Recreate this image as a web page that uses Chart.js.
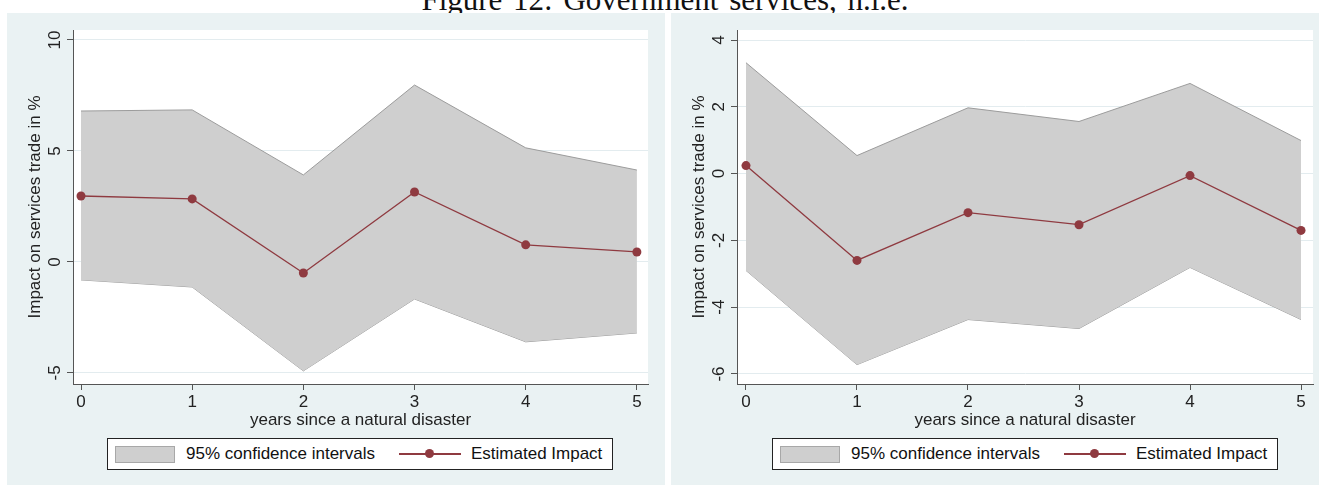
<!DOCTYPE html>
<html><head><meta charset="utf-8">
<script src="https://cdn.jsdelivr.net/npm/chart.js@4.4.0/dist/chart.umd.min.js"></script>
<style>
html,body{margin:0;padding:0;background:#fff;width:1319px;height:485px;overflow:hidden;position:relative;font-family:"Liberation Sans",Arial,sans-serif;}
.title{position:absolute;left:0;width:1330px;top:-16px;line-height:31px;text-align:center;font-family:"Liberation Serif","DejaVu Serif",serif;font-size:31px;color:#111;white-space:nowrap;word-spacing:3px}
.panel{position:absolute;top:13px;height:472px;background:#eaf2f3;overflow:hidden}
#p1{left:7px;width:658px}
#p2{left:671px;width:648px}
canvas{position:absolute;left:0;top:0}
.legend{position:absolute;top:425px;height:32px;width:506px;border:1px solid #222;background:#fff;box-sizing:border-box;font-size:17px;color:#111}
.legend .sw{position:absolute;left:7px;top:7px;width:60px;height:17px;background:#cfcfcf;border:1px solid #a8a8a8;box-sizing:border-box}
.legend .t1{position:absolute;left:78px;top:5px;line-height:20px;white-space:nowrap}
.legend .ln{position:absolute;left:291px;top:14px;width:62px;height:1.5px;background:#8f3a40}
.legend .dot{position:absolute;left:26px;top:-4px;width:9px;height:9px;border-radius:50%;background:#8f3a40}
.legend .t2{position:absolute;left:363px;top:5px;line-height:20px;white-space:nowrap}
</style>
</head><body>
<div class="title">Figure 12: Government services, n.i.e.</div>
<div class="panel" id="p1"><canvas id="c1" width="658" height="472"></canvas>
<div class="legend" style="left:100px"><div class="sw"></div><div class="t1">95% confidence intervals</div><div class="ln"><div class="dot"></div></div><div class="t2">Estimated Impact</div></div>
</div>
<div class="panel" id="p2"><canvas id="c2" width="648" height="472"></canvas>
<div class="legend" style="left:101px"><div class="sw"></div><div class="t1">95% confidence intervals</div><div class="ln"><div class="dot"></div></div><div class="t2">Estimated Impact</div></div>
</div>
<script>
const years = [0, 1, 2, 3, 4, 5];
const estLeft = [2.97, 2.84, -0.5, 3.15, 0.77, 0.45];
const upperLeft = [6.8, 6.85, 3.92, 7.97, 5.14, 4.14];
const lowerLeft = [-0.81, -1.13, -4.91, -1.67, -3.6, -3.2];
const estRight = [0.24, -2.6, -1.17, -1.53, -0.06, -1.7];
const upperRight = [3.32, 0.54, 1.97, 1.56, 2.7, 0.99];
const lowerRight = [-2.9, -5.72, -4.37, -4.64, -2.81, -4.37];
const yTicksLeft = [-5, 0, 5, 10];
const yTicksRight = [-6, -4, -2, 0, 2, 4];
const xTicks = [0, 1, 2, 3, 4, 5];
const yTitle = "Impact on services trade in %";
const xTitle = "years since a natural disaster";
const ciLabel = "95% confidence intervals";
const estLabel = "Estimated Impact";

const RED = '#8f3a40';
const TXT = '#222';

const panelPlugin = {
  id: 'panelPlugin',
  beforeDraw(chart) {
    const {ctx, chartArea: a} = chart;
    ctx.save();
    ctx.fillStyle = '#fff';
    ctx.fillRect(a.left, a.top, a.right - a.left, a.bottom - a.top);
    ctx.restore();
  },
  afterDraw(chart) {
    const y = chart.scales.y;
    const ctx = chart.ctx;
    ctx.save();
    ctx.font = '17px "Liberation Sans", Arial, sans-serif';
    ctx.fillStyle = TXT;
    ctx.textAlign = 'center';
    ctx.textBaseline = 'middle';
    y.ticks.forEach(t => {
      const py = y.getPixelForValue(t.value);
      ctx.save();
      ctx.translate(y.right - 18, py);
      ctx.rotate(-Math.PI / 2);
      ctx.fillText(String(t.value), 0, 0);
      ctx.restore();
    });
    ctx.restore();
  }
};

function pts(vals) { return years.map((x, i) => ({x: x, y: vals[i]})); }

function makeChart(id, est, up, lo, yTicks, yMin, yMax, xMin, xMax, padRight) {
  return new Chart(document.getElementById(id), {
    type: 'line',
    data: {
      datasets: [
        {label: estLabel, data: pts(est), borderColor: RED, borderWidth: 1.3, pointRadius: 4.5,
         pointBackgroundColor: RED, pointBorderWidth: 0, fill: false, tension: 0},
        {label: ciLabel + ' upper', data: pts(up), borderColor: '#9c9c9c', borderWidth: 1, pointRadius: 0,
         backgroundColor: '#cfcfcf', fill: '+1', tension: 0},
        {label: ciLabel + ' lower', data: pts(lo), borderColor: '#9c9c9c', borderWidth: 1, pointRadius: 0,
         fill: false, tension: 0}
      ]
    },
    options: {
      responsive: false, animation: false, devicePixelRatio: 1,
      layout: {padding: {left: 18, top: 17, right: padRight, bottom: 54}},
      plugins: {legend: {display: false}, tooltip: {enabled: false}},
      scales: {
        x: {
          type: 'linear', min: xMin, max: xMax,
          afterBuildTicks: s => { s.ticks = xTicks.map(v => ({value: v})); },
          afterFit: s => { s.height = 47; },
          grid: {drawOnChartArea: false, drawTicks: true, tickLength: 6, tickColor: '#555'},
          border: {display: true, color: '#555', width: 1},
          ticks: {font: {size: 17, family: '"Liberation Sans", Arial'}, color: TXT, padding: 2, maxRotation: 0, autoSkip: false},
          title: {display: true, text: xTitle, color: TXT, font: {size: 17, family: '"Liberation Sans", Arial'}, padding: {top: 0, bottom: 0}}
        },
        y: {
          type: 'linear', min: yMin, max: yMax,
          afterBuildTicks: s => { s.ticks = yTicks.map(v => ({value: v})); },
          afterFit: s => { s.width = 48; },
          grid: {color: '#e3ecef', drawTicks: true, tickLength: 6, tickColor: '#555'},
          border: {display: true, color: '#555', width: 1},
          ticks: {display: false},
          title: {display: true, text: yTitle, color: TXT, font: {size: 17, family: '"Liberation Sans", Arial'}, padding: {top: 0, bottom: 0}}
        }
      }
    },
    plugins: [panelPlugin]
  });
}

makeChart('c1', estLeft, upperLeft, lowerLeft, yTicksLeft, -5.5, 10.45, -0.072, 5.1, 17);
makeChart('c2', estRight, upperRight, lowerRight, yTicksRight, -6.3, 4.3, -0.081, 5.108, 6);
</script>
</body></html>
